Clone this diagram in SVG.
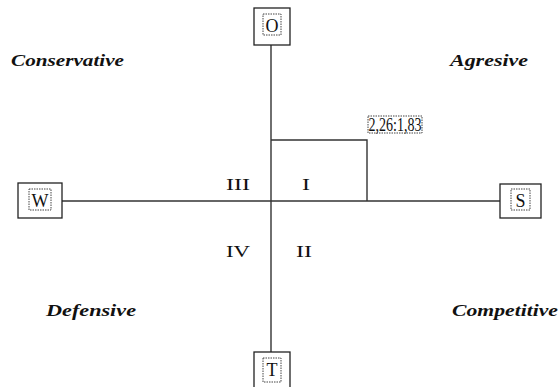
<svg xmlns="http://www.w3.org/2000/svg" width="558" height="387" viewBox="0 0 558 387">
<style>
.box{fill:#fff;stroke:#222;stroke-width:1.3}
.dot{fill:none;stroke:#444;stroke-width:1;stroke-dasharray:1.5 1}
.ln{stroke:#333;stroke-width:1.4;fill:none}
.lbl{font-family:"Liberation Serif",serif;font-size:18px;fill:#111;text-anchor:middle}
.quad{font-family:"Liberation Serif",serif;font-size:17px;font-weight:bold;font-style:italic;fill:#111}
.rom{font-family:"Liberation Serif",serif;font-size:17px;fill:#111}
</style>
<g id="connectors">
<line class="ln" x1="271" y1="45" x2="271" y2="352"/>
<line class="ln" x1="62" y1="201" x2="500" y2="201"/>
<polyline class="ln" points="271,140 367,140 367,201"/>
</g>
<g id="node-O">
<rect class="box" x="254" y="8" width="36" height="37"/>
<rect class="dot" x="263" y="14" width="18" height="21"/>
<text class="lbl" x="272" y="32">O</text>
</g>
<g id="node-W">
<rect class="box" x="18" y="183" width="44" height="35"/>
<rect class="dot" x="29" y="189" width="22" height="21"/>
<text class="lbl" x="40" y="207">W</text>
</g>
<g id="node-S">
<rect class="box" x="500" y="184" width="41" height="34"/>
<rect class="dot" x="511" y="189" width="19" height="21"/>
<text class="lbl" x="520.5" y="207">S</text>
</g>
<g id="node-T">
<rect class="box" x="254" y="352" width="36" height="40"/>
<rect class="dot" x="263" y="358" width="18" height="24"/>
<text class="lbl" x="272" y="376">T</text>
</g>
<g id="node-point">
<rect class="dot" x="368" y="116" width="54" height="17"/>
<text class="lbl" x="395" y="131" textLength="53" lengthAdjust="spacingAndGlyphs">2,26:1,83</text>
</g>
<g id="quadrants">
<text class="quad" x="11" y="66" textLength="113" lengthAdjust="spacingAndGlyphs">Conservative</text>
<text class="quad" x="450" y="66" textLength="78" lengthAdjust="spacingAndGlyphs">Agresive</text>
<text class="quad" x="46" y="316" textLength="90" lengthAdjust="spacingAndGlyphs">Defensive</text>
<text class="quad" x="452" y="316" textLength="106" lengthAdjust="spacingAndGlyphs">Competitive</text>
<text class="rom" x="226" y="190" textLength="24" lengthAdjust="spacingAndGlyphs">III</text>
<text class="rom" x="302" y="190" textLength="8" lengthAdjust="spacingAndGlyphs">I</text>
<text class="rom" x="226" y="257" textLength="24" lengthAdjust="spacingAndGlyphs">IV</text>
<text class="rom" x="296" y="257" textLength="16" lengthAdjust="spacingAndGlyphs">II</text>
</g>
</svg>
